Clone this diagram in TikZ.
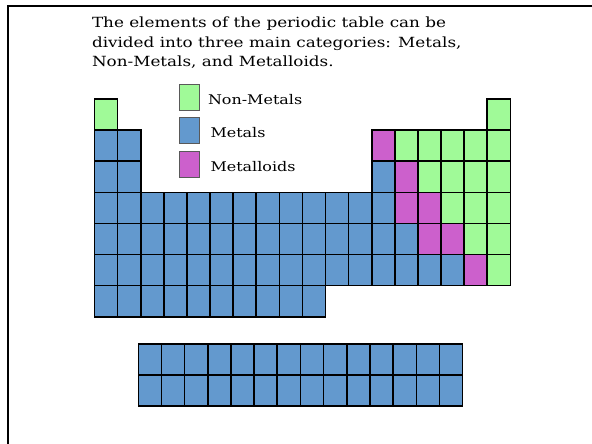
\documentclass[tikz,border=0pt]{standalone}
\usepackage{fontspec}
\setmainfont[FakeStretch=1.2]{DejaVu Serif}
\usepackage{xcolor}
\usetikzlibrary{positioning}

\definecolor{nonmetalgreen}{HTML}{A0FA98}
\definecolor{metalblue}{HTML}{6399CE}
\definecolor{metalloidpink}{HTML}{CC60CC}

\begin{document}
\begin{tikzpicture}[
  x=1pt,y=-1pt,
  every node/.style={inner sep=0pt,outer sep=0pt},
  cell/.style={draw=black,line width=1.6pt,minimum width=23.1pt,minimum height=31.1pt},
  nonmetal/.style={cell,fill=nonmetalgreen},
  metal/.style={cell,fill=metalblue},
  metalloid/.style={cell,fill=metalloidpink},
  key/.style={draw=black!65,line width=0.9pt,minimum width=20pt,minimum height=26pt},
  keylabel/.style={font=\fontsize{13.3}{16}\selectfont,yshift=-2pt}
]
\useasboundingbox (0,0) rectangle (592,444);
\draw[line width=2pt] (8,444) -- (8,6) -- (592,6);

% intro text
\node[anchor=north west,align=left,font=\fontsize{14}{19.5}\selectfont] (intro) at (92,17)
  {The elements of the periodic table can be\\divided into three main categories: Metals,\\Non-Metals, and Metalloids.};

% legend
\node[key,fill=nonmetalgreen] (kn) at (189,97.5) {};
\node[key,fill=metalblue] (km) at (189,130.3) {};
\node[key,fill=metalloidpink] (kx) at (189,164.5) {};
\node[keylabel,right=9pt of kn] (ln) {Non-Metals};
\node[keylabel,right=11.5pt of km] (lm) {Metals};
\node[keylabel,right=11.5pt of kx] (lx) {Metalloids};

% main table
\foreach \r/\c in {2/1,2/2,3/1,3/2,3/13,
    4/1,4/2,4/3,4/4,4/5,4/6,4/7,4/8,4/9,4/10,4/11,4/12,4/13,
    5/1,5/2,5/3,5/4,5/5,5/6,5/7,5/8,5/9,5/10,5/11,5/12,5/13,5/14,
    6/1,6/2,6/3,6/4,6/5,6/6,6/7,6/8,6/9,6/10,6/11,6/12,6/13,6/14,6/15,6/16,
    7/1,7/2,7/3,7/4,7/5,7/6,7/7,7/8,7/9,7/10}
  \node[metal] (p-\r-\c) at ({94.5+(\c-0.5)*23.1},{99+(\r-0.5)*31.1}) {};
\foreach \r/\c in {1/1,1/18,2/14,2/15,2/16,2/17,2/18,3/15,3/16,3/17,3/18,
    4/16,4/17,4/18,5/17,5/18,6/18}
  \node[nonmetal] (p-\r-\c) at ({94.5+(\c-0.5)*23.1},{99+(\r-0.5)*31.1}) {};
\foreach \r/\c in {2/13,3/14,4/14,4/15,5/15,5/16,6/17}
  \node[metalloid] (p-\r-\c) at ({94.5+(\c-0.5)*23.1},{99+(\r-0.5)*31.1}) {};

% lower block
\foreach \r in {1,2}
  \foreach \c in {1,...,14}
    \node[metal] (f-\r-\c) at ({138.3+(\c-0.5)*23.17},{344+(\r-0.5)*31.1}) {};
\end{tikzpicture}
\end{document}
